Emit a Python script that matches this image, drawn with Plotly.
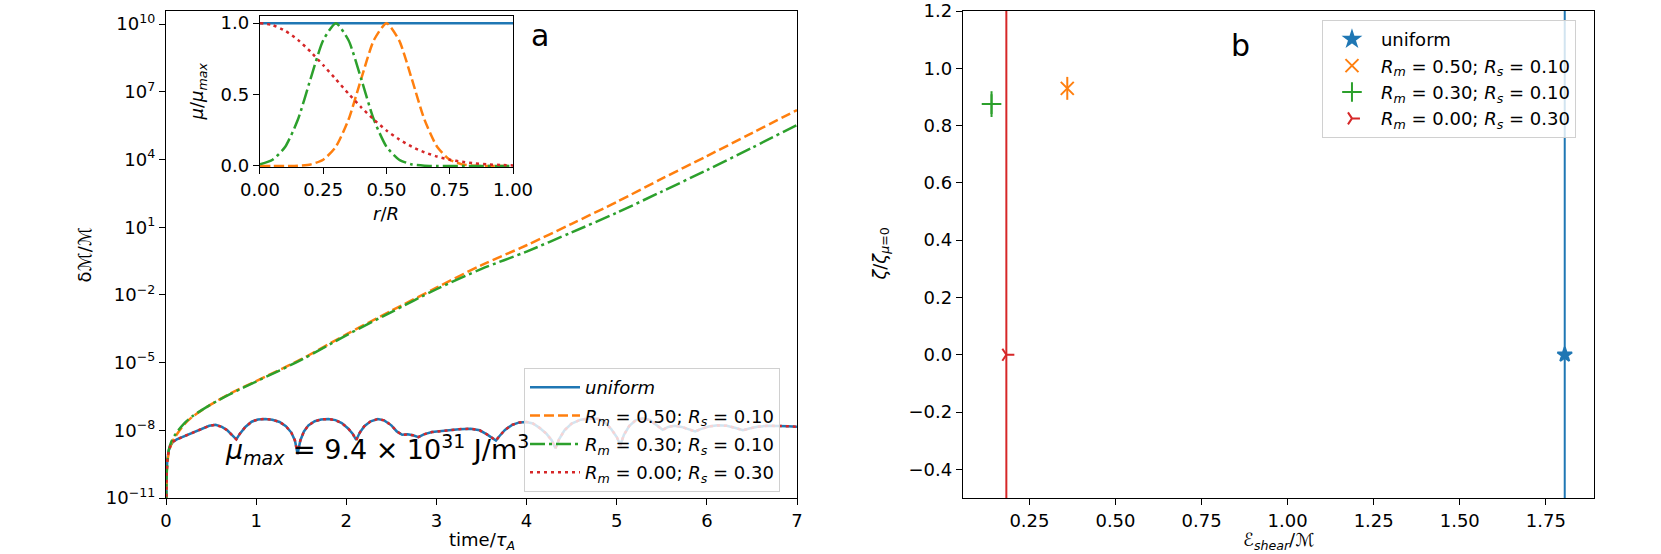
import plotly.graph_objects as go

# ---------------- data: panel a (main) ----------------
blue_t = [0.0, 0.003, 0.008, 0.015, 0.03, 0.05, 0.08, 0.12, 0.2, 0.3, 0.4, 0.48, 0.55, 0.62, 0.68, 0.74, 0.78,
          0.82, 0.88, 0.95, 1.02, 1.1, 1.18, 1.26, 1.33, 1.39, 1.43, 1.46,
          1.49, 1.53, 1.58, 1.65, 1.72, 1.8, 1.88, 1.95, 2.02, 2.07, 2.11,
          2.15, 2.2, 2.27, 2.35, 2.42, 2.5, 2.56, 2.62,
          2.68, 2.74, 2.8, 2.86, 2.95, 3.1, 3.25, 3.38, 3.48, 3.56, 3.62, 3.66,
          3.7, 3.76, 3.84, 3.92, 4.0, 4.07, 4.14, 4.22, 4.28, 4.32,
          4.36, 4.42, 4.5, 4.6, 4.7, 4.8, 4.87, 4.94, 5.0, 5.04,
          5.08, 5.14, 5.21, 5.29, 5.37, 5.44, 5.51, 5.57, 5.64, 5.72, 5.8, 5.87,
          5.93, 6.02, 6.12, 6.22, 6.32, 6.4, 6.47, 6.56, 6.68, 6.8, 6.9, 7.0]
blue_log = [-12.5, -10.6, -9.8, -9.3, -8.9, -8.68, -8.5, -8.4, -8.27, -8.1, -7.93, -7.8, -7.76, -7.85, -8.0, -8.22, -8.4,
            -8.15, -7.85, -7.62, -7.52, -7.5, -7.53, -7.63, -7.82, -8.1, -8.45, -9.05,
            -8.45, -8.05, -7.78, -7.6, -7.52, -7.5, -7.55, -7.68, -7.92, -8.15, -8.43,
            -8.1, -7.82, -7.6, -7.5, -7.56, -7.78, -8.05, -8.2,
            -8.18, -8.22, -8.3, -8.18, -8.08, -8.0, -7.95, -7.93, -8.0, -8.18, -8.35, -8.45,
            -8.25, -7.98, -7.76, -7.65, -7.63, -7.7, -7.88, -8.15, -8.45, -8.8,
            -8.4, -8.0, -7.7, -7.53, -7.47, -7.5, -7.65, -7.95, -8.3, -8.65,
            -8.2, -7.8, -7.56, -7.47, -7.55, -7.75, -7.98, -7.85, -7.8, -7.85, -7.95, -8.05,
            -7.95, -7.83, -7.78, -7.8, -7.9, -8.0, -7.92, -7.84, -7.8, -7.8, -7.82, -7.84]

orange_t = [0.0, 0.01, 0.03, 0.06, 0.1, 0.2, 0.3, 0.5, 0.7, 1.0, 1.5, 2.0, 2.5, 3.0, 3.5, 4.0, 4.5, 5.0, 5.5, 6.0, 6.5, 7.0]
orange_log = [-12.5, -9.8, -9.0, -8.6, -8.3, -7.75, -7.38, -6.85, -6.4, -5.82, -4.85, -3.75, -2.7, -1.68, -0.68, 0.2,
              1.15, 2.12, 3.15, 4.15, 5.17, 6.19]

green_t = [0.0, 0.01, 0.03, 0.06, 0.1, 0.2, 0.3, 0.5, 0.7, 1.0, 1.5, 2.0, 2.5, 3.0, 3.5, 4.0, 4.5, 5.0, 5.5, 6.0, 6.5, 7.0]
green_log = [-12.5, -9.7, -8.9, -8.5, -8.2, -7.7, -7.36, -6.85, -6.42, -5.84, -4.88, -3.79, -2.76, -1.75, -0.85, -0.08,
             0.77, 1.64, 2.58, 3.53, 4.52, 5.53]

# Rm=0.00; Rs=0.30 lies on top of the uniform curve in the picture
red_t = list(blue_t)
red_log = list(blue_log)

# ---------------- data: inset ----------------
inset_r = [0.0, 0.05, 0.1, 0.15, 0.2, 0.25, 0.3, 0.35, 0.4, 0.45, 0.5, 0.55, 0.6, 0.65, 0.7, 0.75, 0.8, 0.85, 0.9, 0.95, 1.0]
inset_uniform = [1.0] * 21
inset_orange = [0.0, 0.0, 0.0, 0.002, 0.011, 0.044, 0.135, 0.325, 0.61, 0.88, 1.0, 0.88, 0.61, 0.325, 0.135, 0.044,
                0.011, 0.002, 0.0, 0.0, 0.0]
inset_green = [0.011, 0.044, 0.135, 0.325, 0.61, 0.88, 1.0, 0.88, 0.61, 0.325, 0.135, 0.044, 0.011, 0.002, 0.0, 0.0,
               0.0, 0.0, 0.0, 0.0, 0.0]
inset_red = [1.0, 0.986, 0.946, 0.883, 0.80, 0.706, 0.607, 0.506, 0.411, 0.325, 0.249, 0.186, 0.135, 0.096, 0.066,
             0.044, 0.029, 0.018, 0.011, 0.007, 0.004]

# ---------------- data: panel b ----------------
b_names = ["uniform", "<i>R</i><sub><i>m</i></sub> = 0.50; <i>R</i><sub><i>s</i></sub> = 0.10",
           "<i>R</i><sub><i>m</i></sub> = 0.30; <i>R</i><sub><i>s</i></sub> = 0.10",
           "<i>R</i><sub><i>m</i></sub> = 0.00; <i>R</i><sub><i>s</i></sub> = 0.30"]
b_x = [1.805, 0.36, 0.14, 0.183]
b_y = [0.0, 0.93, 0.875, 0.0]
b_err = [5.0, 0.04, 0.045, 5.0]

a_names = ["<i>uniform</i>"] + b_names[1:]

yticks_a = [-11, -8, -5, -2, 1, 4, 7, 10]
xticks_b = [0.25, 0.5, 0.75, 1.0, 1.25, 1.5, 1.75]
yticks_b = [-0.4, -0.2, 0.0, 0.2, 0.4, 0.6, 0.8, 1.0, 1.2]

C = ["#1f77b4", "#ff7f0e", "#2ca02c", "#d62728"]
FONT = "DejaVu Sans"
LW = 2.5

fig = go.Figure()

def pw(v):
    return [10 ** x for x in v]

# main curves
fig.add_trace(go.Scatter(x=blue_t, y=pw(blue_log), mode="lines", name=a_names[0],
                         line=dict(color=C[0], width=LW), xaxis="x", yaxis="y",
                         legend="legend", legendgroup="a0"))
fig.add_trace(go.Scatter(x=orange_t, y=pw(orange_log), mode="lines", name=a_names[1],
                         line=dict(color=C[1], width=LW, dash="10px,4px", shape="spline", smoothing=0.8),
                         xaxis="x", yaxis="y", legend="legend", legendgroup="a1"))
fig.add_trace(go.Scatter(x=green_t, y=pw(green_log), mode="lines", name=a_names[2],
                         line=dict(color=C[2], width=LW, dash="15px,4px,3px,4px", shape="spline", smoothing=0.8),
                         xaxis="x", yaxis="y", legend="legend", legendgroup="a2"))
fig.add_trace(go.Scatter(x=red_t, y=pw(red_log), mode="lines", name=a_names[3],
                         line=dict(color=C[3], width=LW, dash="3px,4px"),
                         xaxis="x", yaxis="y", legend="legend", legendgroup="a3"))

# inset curves
for vals, col, dash in [(inset_uniform, C[0], "solid"), (inset_orange, C[1], "10px,4px"),
                        (inset_green, C[2], "15px,4px,3px,4px"), (inset_red, C[3], "3px,4px")]:
    fig.add_trace(go.Scatter(x=inset_r, y=vals, mode="lines", showlegend=False,
                             line=dict(color=col, width=LW, dash=dash, shape="spline", smoothing=0.6),
                             xaxis="x3", yaxis="y3"))

# panel b
symbols = ["star", "x-thin", "cross-thin", "y-right"]
sizes = [11, 13, 14, 10]
for i in range(4):
    fig.add_trace(go.Scatter(x=[b_x[i]], y=[b_y[i]], mode="markers", name=b_names[i],
                             marker=dict(symbol=symbols[i], size=sizes[i], color=C[i],
                                         line=dict(color=C[i], width=2)),
                             error_y=dict(type="data", array=[b_err[i]], color=C[i], thickness=2, width=0),
                             xaxis="x2", yaxis="y2", legend="legend2", legendgroup="b%d" % i))

ax_common = dict(showline=True, mirror=True, linecolor="black", linewidth=1.3, ticks="outside",
                 ticklen=6, tickwidth=1.3, tickcolor="black", showgrid=False, zeroline=False,
                 automargin=False,
                 tickfont=dict(family=FONT, size=18, color="black"))

fig.update_layout(
    template="none",
    width=1661, height=554, autosize=False,
    margin=dict(l=166, r=67, t=11, b=56, pad=0),
    paper_bgcolor="white", plot_bgcolor="white",
    font=dict(family=FONT, size=18, color="black"),
    xaxis=dict(domain=[0, 0.4419], range=[0, 7], tickvals=[0, 1, 2, 3, 4, 5, 6, 7], **ax_common),
    yaxis=dict(type="log", range=[-11, 10.58], tickvals=[10 ** v for v in yticks_a],
               ticktext=["10<sup>%s</sup>" % (str(v).replace("-", "\u2212")) for v in yticks_a], **ax_common),
    xaxis2=dict(domain=[0.5581, 1], range=[0.057, 1.89], tickvals=xticks_b,
                ticktext=["%.2f" % v for v in xticks_b], anchor="y2", **ax_common),
    yaxis2=dict(range=[-0.5, 1.2], tickvals=yticks_b,
                ticktext=[("%.1f" % v).replace("-", "\u2212") for v in yticks_b], anchor="x2", **ax_common),
    xaxis3=dict(domain=[0.0658, 0.2430], range=[0, 1], tickvals=[0, 0.25, 0.5, 0.75, 1.0],
                ticktext=["0.00", "0.25", "0.50", "0.75", "1.00"], anchor="y3", **ax_common),
    yaxis3=dict(domain=[0.6797, 0.9897], range=[-0.007, 1.05], tickvals=[0, 0.5, 1.0],
                ticktext=["0.0", "0.5", "1.0"], anchor="x3", **ax_common),
    legend=dict(x=0.2507, y=0.267, xanchor="left", yanchor="top", bgcolor="rgba(255,255,255,0.8)",
                bordercolor="#d0d0d0", borderwidth=1, font=dict(family=FONT, size=18),
                traceorder="grouped", tracegroupgap=2, itemwidth=50),
    legend2=dict(x=0.8095, y=0.9815, xanchor="left", yanchor="top", bgcolor="rgba(255,255,255,0.8)",
                 bordercolor="#d0d0d0", borderwidth=1, font=dict(family=FONT, size=18),
                 traceorder="grouped", tracegroupgap=0, itemwidth=48),
)

ann = [
    dict(text="\u03b4\u2133/\u2133", x=-0.0574, y=0.5, textangle=-90),
    dict(text="<i>\u03b6</i>/<i>\u03b6</i><sub><i>\u03bc</i>=0</sub>", x=0.5, y=0.5, textangle=-90),
    dict(text="time/<i>\u03c4</i><sub><i>A</i></sub>", x=0.221, y=-0.088),
    dict(text="\u2130<sub><i>shear</i></sub>/\u2133", x=0.779, y=-0.088),
    dict(text="<i>\u03bc</i>/<i>\u03bc</i><sub><i>max</i></sub>", x=0.0224, y=0.8347, textangle=-90),
    dict(text="<i>r</i>/<i>R</i>", x=0.1544, y=0.5832),
    dict(text="a", x=0.2619, y=0.9507, size=30),
    dict(text="b", x=0.7528, y=0.930, size=30),
]
for a in ann:
    sz = a.pop("size", 18)
    fig.add_annotation(xref="paper", yref="paper", showarrow=False, xanchor="center", yanchor="middle",
                       font=dict(family=FONT, size=sz, color="black"), **a)

fig.add_annotation(xref="paper", yref="paper", showarrow=False, x=0.0399, y=0.0995, xanchor="left",
                   yanchor="middle",
                   text="<i>\u03bc</i><sub><i>max</i></sub> = 9.4 \u00d7 10<sup>31</sup> J/m<sup>3</sup>",
                   font=dict(family=FONT, size=27, color="black"))

fig.write_html("out.html", config={"displayModeBar": False},
               post_script="document.body.style.margin='0px';document.body.style.overflow='hidden';")
